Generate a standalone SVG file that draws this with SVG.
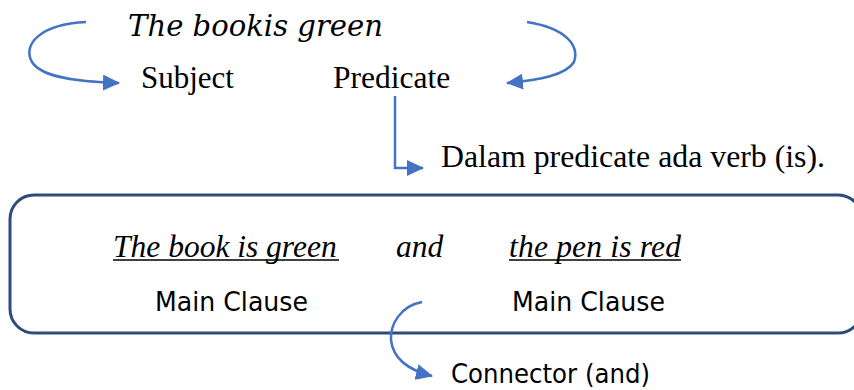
<svg xmlns="http://www.w3.org/2000/svg" width="854" height="390" viewBox="0 0 854 390">
<style>
.bg{fill:#ffffff}
.serif{font-family:"Liberation Serif","Times New Roman",serif;fill:#000}
.it{font-style:italic}
.sans{font-family:"DejaVu Sans","Liberation Sans",sans-serif;fill:#000}
.arrow{fill:none;stroke:#4472C4;stroke-width:2.5}
.box{fill:none;stroke:#2F4B7C;stroke-width:3}
.ul{stroke:#000;stroke-width:1.6}
</style>
<defs>
<marker id="ah" markerUnits="userSpaceOnUse" markerWidth="18" markerHeight="16" refX="16" refY="8" orient="auto">
<path d="M0,0 L17,8 L0,16 Z" fill="#4472C4"/>
</marker>
</defs>
<rect class="bg" x="0" y="0" width="854" height="390"/>
<g id="sentence">
<text class="it" x="128" y="36" font-family="DejaVu Serif, serif" font-size="29" textLength="255" lengthAdjust="spacingAndGlyphs">The bookis green</text>
</g>
<g id="subject">
<text class="serif" x="141" y="88" font-size="31">Subject</text>
</g>
<g id="predicate">
<text class="serif" x="333" y="88" font-size="31.5">Predicate</text>
</g>
<g id="verb-note">
<text class="serif" x="441" y="167" font-size="31.8">Dalam predicate ada verb (is).</text>
</g>
<g id="compound">
<rect class="box" x="10" y="195" width="852" height="138" rx="24" ry="24"/>
<text class="serif it" x="113" y="257" font-size="31.5">The book is green</text>
<line class="ul" x1="113" y1="260" x2="339" y2="260"/>
<text class="serif it" x="396" y="257" font-size="31.5">and</text>
<text class="serif it" x="509" y="257" font-size="31.5" textLength="172">the pen is red</text>
<line class="ul" x1="509" y1="260" x2="681" y2="260"/>
<text class="sans" x="155" y="311" font-size="27" textLength="153" lengthAdjust="spacingAndGlyphs">Main Clause</text>
<text class="sans" x="512" y="311" font-size="27" textLength="153" lengthAdjust="spacingAndGlyphs">Main Clause</text>
</g>
<g id="connector-note">
<text class="sans" x="451" y="383" font-size="27" textLength="199" lengthAdjust="spacingAndGlyphs">Connector (and)</text>
</g>
<g id="connectors">
<path class="arrow" marker-end="url(#ah)" d="M86,22 C40,24 22,45 32,62 C42,78 80,82 119,83"/>
<path class="arrow" marker-end="url(#ah)" d="M527,22 C565,28 580,45 574,62 C566,75 540,80 507,83"/>
<path class="arrow" marker-end="url(#ah)" d="M395,96 L395,168 L423,168"/>
<path class="arrow" marker-end="url(#ah)" d="M422,302 C400,306 390,325 391,340 C393,358 408,370 432,376"/>
</g>
</svg>
